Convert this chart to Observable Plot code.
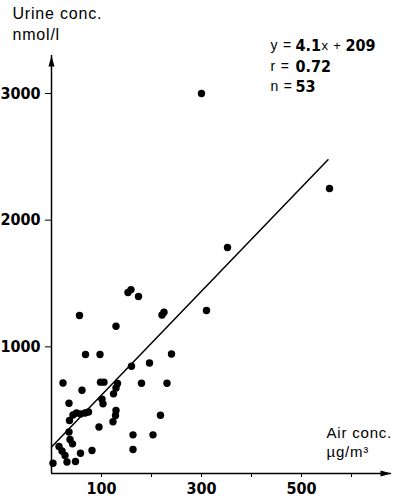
<!DOCTYPE html>
<html>
<head>
<meta charset="utf-8">
<script src="https://cdn.jsdelivr.net/npm/d3@7"></script>
<script src="https://cdn.jsdelivr.net/npm/@observablehq/plot@0.6"></script>
<style>
  html, body { margin: 0; padding: 0; background: #fff; }
  #chart svg { display: block; }
  g[font-family^="Liberation Sans,"] { letter-spacing: 0.8px; }
</style>
</head>
<body>
<div id="chart"></div>
<script>
// Air concentration (µg/m3)
const airConc = [300, 556, 352, 310,
  153, 159, 174, 56, 129, 221, 225,
  68, 97, 240, 160, 196,
  23, 98, 105, 180, 231,
  61, 132, 129, 124,
  35, 101, 103,
  36, 43, 50, 58, 67, 74,
  129, 128, 123, 218,
  95, 35, 37, 42,
  163, 203,
  15, 21, 27,
  58, 81, 163,
  3, 31, 48];
// Urine concentration (nmol/l)
const urineConc = [3000, 2250, 1784, 1287,
  1429, 1452, 1397, 1247, 1163, 1251, 1273,
  939, 939, 943, 847, 872,
  714, 721, 721, 713, 713,
  657, 710, 675, 629,
  555, 586, 550,
  418, 462, 478, 470, 478, 485,
  497, 458, 408, 460,
  367, 328, 268, 234,
  305, 305,
  213, 178, 142,
  160, 182, 189,
  81, 91, 95];

// Regression: y = 4.1 x + 209
const slope = 4.1;
const intercept = 209;
const fitRange = [0, 553];

const xDomain = [0, 680];
const yDomain = [0, 3300];
const xTicks = [100, 200, 300, 400, 500, 600];
const xTickLabels = [100, 300, 500];
const yTicks = [1000, 2000, 3000];

const eqLabels = ["y =", "r =", "n ="];
const eqValues = ["4.1", "0.72", "53"];
const eqTail = ["x +", "209"];
const yTitle = ["Urine conc.", "nmol/l"];
const xTitle = ["Air conc.", "µg/m³"];

const points = airConc.map((x, i) => ({x, y: urineConc[i]}));
const fit = fitRange.map(x => ({x, y: slope * x + intercept}));

const arrowUp = {
  draw(ctx) { ctx.moveTo(0, 0); ctx.lineTo(3, 11); ctx.lineTo(-3, 11); ctx.closePath(); }
};

const REG = "Liberation Sans, Arial, sans-serif";
const BOLD = "DejaVu Sans Condensed, Liberation Sans Narrow, sans-serif";
const rowDy = [-9.5, 11.5, 31.5];

const t = (txt, o) => Plot.text([txt], {text: d => d, frameAnchor: "top-left", textAnchor: "start", lineAnchor: "middle", fill: "black", ...o});

const chart = Plot.plot({
  width: 402,
  height: 502,
  marginLeft: 51,
  marginRight: 11,
  marginTop: 55,
  marginBottom: 29,
  x: {domain: xDomain},
  y: {domain: yDomain},
  marks: [
    Plot.ruleY([0], {stroke: "black", strokeWidth: 1.5}),
    Plot.ruleX([0], {stroke: "black", strokeWidth: 1.5}),
    Plot.dot([{x: xDomain[0], y: yDomain[1]}], {x: "x", y: "y", symbol: arrowUp, fill: "black", stroke: null}),
    Plot.dot([{x: xDomain[1], y: yDomain[0]}], {x: "x", y: "y", symbol: arrowUp, rotate: 90, fill: "black", stroke: null}),
    Plot.axisX({ticks: xTicks, tickSize: 4, tickPadding: 5,
      tickFormat: d => xTickLabels.includes(d) ? String(d) : "",
      fontFamily: BOLD, fontWeight: "bold", fontSize: 16, label: null, stroke: "black"}),
    Plot.axisY({ticks: yTicks, tickSize: 6, tickPadding: 5,
      tickFormat: d => String(d),
      fontFamily: BOLD, fontWeight: "bold", fontSize: 16, label: null, stroke: "black"}),
    Plot.line(fit, {x: "x", y: "y", stroke: "black", strokeWidth: 1.5}),
    Plot.dot(points, {x: "x", y: "y", r: 3.7, fill: "black", stroke: null}),
    // y title
    t(yTitle[0], {dx: -39, dy: -42, fontFamily: REG, fontSize: 16}),
    t(yTitle[1], {dx: -39, dy: -21, fontFamily: REG, fontSize: 16}),
    // x title
    t(xTitle[0], {dx: 275, dy: 378, fontFamily: REG, fontSize: 15}),
    t(xTitle[1], {dx: 275, dy: 397, fontFamily: REG, fontSize: 15}),
    // equation block
    ...eqLabels.map((s, i) => t(s, {dx: 219, dy: rowDy[i], fontFamily: REG, fontSize: 14})),
    ...eqValues.map((s, i) => t(s, {dx: 244, dy: rowDy[i], fontFamily: BOLD, fontWeight: "bold", fontSize: 16})),
    t(eqTail[0], {dx: 270, dy: rowDy[0], fontFamily: REG, fontSize: 13}),
    t(eqTail[1], {dx: 294, dy: rowDy[0], fontFamily: BOLD, fontWeight: "bold", fontSize: 16})
  ]
});
document.getElementById("chart").appendChild(chart);
</script>
</body>
</html>
